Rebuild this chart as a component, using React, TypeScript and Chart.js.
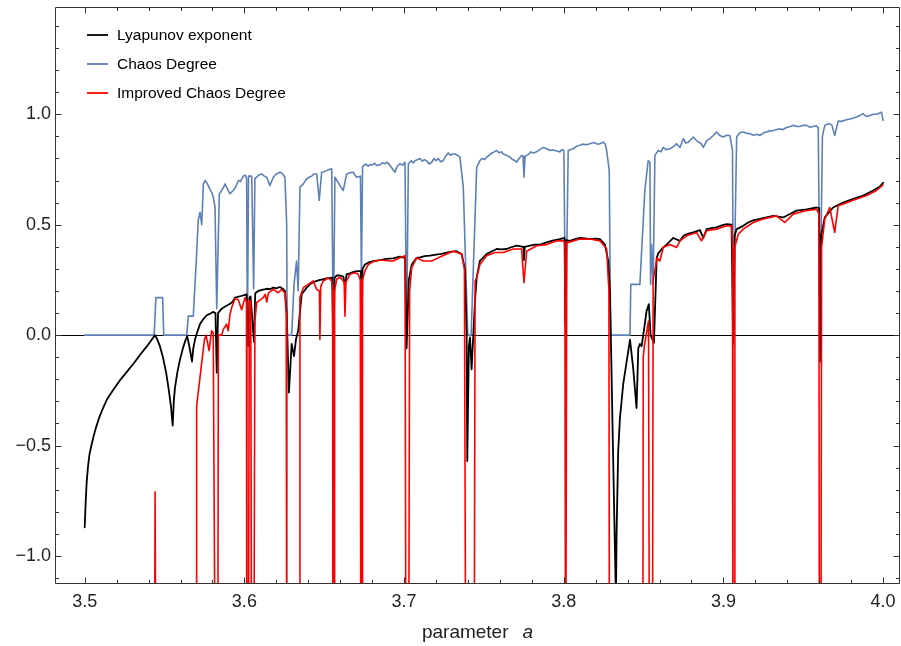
import React, { useEffect, useRef } from 'react';
import { Chart, registerables } from 'chart.js';

Chart.register(...registerables);

const X_MIN = 3.4814;
const X_MAX = 4.0106;
const Y_MIN = -1.127;
const Y_MAX = 1.486;

const xTickLabels = [3.5, 3.6, 3.7, 3.8, 3.9, 4.0];
const yTickLabels = [-1.0, -0.5, 0.0, 0.5, 1.0];
const seriesNames = ['Lyapunov exponent', 'Chaos Degree', 'Improved Chaos Degree'];
const seriesColors = ['#000000', '#5e81b5', '#ff0000'];
const axisTitle = 'parameter';
const axisSymbol = 'a';

// [parameter a, value]
const lyapunov: [number, number][] = [
  [3.5, -0.87], [3.5006, -0.76], [3.5012, -0.67], [3.502, -0.6], [3.503, -0.54], [3.5042, -0.5],
  [3.5055, -0.46], [3.507, -0.42], [3.509, -0.375], [3.5115, -0.33], [3.514, -0.29], [3.5177, -0.25],
  [3.522, -0.205], [3.5265, -0.165], [3.531, -0.125], [3.5346, -0.09], [3.539, -0.05], [3.5425, -0.015],
  [3.544, 0.0], [3.5455, -0.02], [3.5471, -0.05], [3.549, -0.1], [3.551, -0.17], [3.5525, -0.24],
  [3.554, -0.32], [3.5551, -0.41], [3.5558, -0.3], [3.5565, -0.24], [3.558, -0.17], [3.5597, -0.11],
  [3.5615, -0.06], [3.563, -0.025], [3.5642, -0.005], [3.5655, -0.05], [3.5665, -0.09], [3.5672, -0.12],
  [3.568, -0.06], [3.5691, -0.02], [3.5701, 0.005], [3.5722, 0.05], [3.574, 0.07], [3.5764, 0.09],
  [3.578, 0.095], [3.5803, 0.105], [3.5819, 0.1], [3.5827, -0.17], [3.5835, 0.1], [3.5858, 0.12],
  [3.588, 0.13], [3.591, 0.142], [3.5925, 0.15], [3.5941, 0.17], [3.597, 0.175], [3.5993, 0.18],
  [3.6014, 0.185], [3.6024, -0.05], [3.6032, 0.17], [3.6039, 0.175], [3.606, -0.03], [3.6068, 0.19],
  [3.6087, 0.2], [3.611, 0.205], [3.614, 0.21], [3.616, 0.208], [3.6181, 0.215], [3.62, 0.212],
  [3.6223, 0.218], [3.624, 0.21], [3.6254, 0.2], [3.6265, 0.1], [3.6279, -0.26], [3.6296, -0.04],
  [3.6311, -0.095], [3.6323, -0.02], [3.6337, 0.02], [3.6359, 0.185], [3.639, 0.215], [3.641, 0.23],
  [3.6431, 0.24], [3.645, 0.245], [3.6473, 0.25], [3.649, 0.252], [3.6515, 0.257], [3.655, 0.26],
  [3.6557, -0.12], [3.6565, 0.26], [3.6578, 0.27], [3.66, 0.27], [3.662, 0.265], [3.663, 0.22],
  [3.664, 0.275], [3.6661, 0.28], [3.668, 0.285], [3.6703, 0.29], [3.673, 0.29], [3.6734, -0.035],
  [3.674, 0.3], [3.6755, 0.32], [3.678, 0.33], [3.6807, 0.335], [3.685, 0.34], [3.6891, 0.345],
  [3.693, 0.348], [3.6974, 0.355], [3.7006, 0.35], [3.7016, -0.06], [3.703, 0.25], [3.7048, 0.32],
  [3.7079, 0.35], [3.71, 0.352], [3.713, 0.358], [3.7162, 0.36], [3.72, 0.365], [3.7235, 0.368],
  [3.7267, 0.374], [3.73, 0.378], [3.7329, 0.38], [3.7361, 0.367], [3.7381, 0.3], [3.7392, 0.0],
  [3.7396, -0.57], [3.7406, -0.05], [3.7413, -0.01], [3.7423, -0.155], [3.7433, -0.01], [3.7444, 0.15],
  [3.7455, 0.26], [3.7475, 0.336], [3.7517, 0.367], [3.755, 0.38], [3.758, 0.39], [3.761, 0.388],
  [3.7642, 0.39], [3.767, 0.398], [3.7705, 0.405], [3.7748, 0.4], [3.7751, 0.34], [3.7756, 0.4],
  [3.7788, 0.405], [3.782, 0.41], [3.7851, 0.41], [3.7893, 0.42], [3.793, 0.428], [3.7976, 0.435],
  [3.8005, 0.44], [3.801, 0.06], [3.8016, 0.43], [3.8039, 0.427], [3.807, 0.435], [3.8101, 0.44],
  [3.8135, 0.438], [3.8164, 0.435], [3.82, 0.437], [3.8227, 0.435], [3.8258, 0.41], [3.8279, 0.336],
  [3.8289, 0.2], [3.8295, 0.0], [3.8308, -0.5], [3.8327, -1.2], [3.8331, -0.9], [3.8341, -0.53],
  [3.8352, -0.376], [3.8373, -0.22], [3.8394, -0.12], [3.8415, -0.02], [3.8435, -0.15], [3.8456, -0.33],
  [3.8467, -0.06], [3.8477, -0.04], [3.8488, -0.05], [3.8498, 0.0], [3.8519, 0.11], [3.8533, 0.14],
  [3.8544, 0.0], [3.8565, -0.035], [3.8582, 0.35], [3.8592, 0.37], [3.862, 0.395], [3.8644, 0.41],
  [3.8686, 0.44], [3.8728, 0.427], [3.875, 0.45], [3.877, 0.457], [3.8811, 0.465], [3.8853, 0.476],
  [3.8874, 0.44], [3.8895, 0.48], [3.8925, 0.485], [3.8957, 0.488], [3.899, 0.497], [3.902, 0.503],
  [3.9051, 0.5], [3.9061, -0.04], [3.907, 0.45], [3.9083, 0.48], [3.9124, 0.495], [3.9155, 0.51],
  [3.9187, 0.52], [3.9249, 0.53], [3.9312, 0.54], [3.9374, 0.533], [3.942, 0.55], [3.9458, 0.564],
  [3.9521, 0.57], [3.9584, 0.578], [3.96, 0.575], [3.9605, -0.12], [3.9612, 0.45], [3.9635, 0.533],
  [3.9687, 0.578], [3.972, 0.59], [3.975, 0.6], [3.9813, 0.617], [3.9875, 0.632], [3.9938, 0.655],
  [3.998, 0.673], [4.0, 0.69],
];

const chaosDegree: [number, number][] = [
  [3.5, 0], [3.5435, 0], [3.5446, 0.17], [3.5488, 0.17], [3.5495, 0], [3.5639, 0], [3.5649, 0.086],
  [3.568, 0.086], [3.5701, 0.367], [3.5711, 0.52], [3.5722, 0.556], [3.5733, 0.5], [3.5743, 0.685],
  [3.5754, 0.7], [3.5765, 0.69], [3.5774, 0.677], [3.5785, 0.66], [3.5795, 0.647], [3.5806, 0.624],
  [3.5816, 0.58], [3.5827, 0.12], [3.5843, 0.64], [3.5858, 0.655], [3.587, 0.67], [3.5879, 0.685],
  [3.5895, 0.66], [3.591, 0.64], [3.593, 0.655], [3.5945, 0.67], [3.5962, 0.7], [3.5975, 0.695],
  [3.5993, 0.72], [3.6005, 0.725], [3.6014, 0.71], [3.6019, 0.0], [3.6026, 0.72], [3.6046, 0.72],
  [3.6058, 0.21], [3.6066, 0.71], [3.6077, 0.715], [3.609, 0.725], [3.6108, 0.73], [3.6125, 0.72],
  [3.614, 0.715], [3.616, 0.677], [3.6181, 0.715], [3.62, 0.73], [3.6223, 0.738], [3.624, 0.73],
  [3.6254, 0.715], [3.6265, 0.5], [3.6268, 0.0], [3.6296, 0.0], [3.6311, 0.23], [3.6327, 0.336],
  [3.6337, 0.2], [3.6348, 0.67], [3.6369, 0.685], [3.639, 0.707], [3.6405, 0.715], [3.6421, 0.72],
  [3.6437, 0.73], [3.6453, 0.73], [3.6469, 0.61], [3.6484, 0.738], [3.65, 0.74], [3.6515, 0.745],
  [3.653, 0.75], [3.6547, 0.753], [3.6557, 0.0], [3.6567, 0.715], [3.658, 0.7], [3.6599, 0.677],
  [3.6619, 0.655], [3.6641, 0.73], [3.666, 0.735], [3.6682, 0.738], [3.6692, 0.725], [3.6703, 0.715],
  [3.6727, 0.72], [3.6733, 0.25], [3.674, 0.76], [3.6745, 0.768], [3.676, 0.775], [3.6775, 0.765],
  [3.6786, 0.773], [3.68, 0.77], [3.6815, 0.778], [3.683, 0.768], [3.6849, 0.772], [3.6865, 0.78],
  [3.688, 0.776], [3.6891, 0.783], [3.6905, 0.775], [3.692, 0.76], [3.6943, 0.738], [3.6958, 0.765],
  [3.6974, 0.776], [3.699, 0.77], [3.7006, 0.783], [3.7016, 0.0], [3.7027, 0.776], [3.7045, 0.79],
  [3.7058, 0.78], [3.7069, 0.79], [3.7085, 0.795], [3.71, 0.8], [3.7115, 0.788], [3.7128, 0.795],
  [3.7141, 0.79], [3.7157, 0.775], [3.7173, 0.783], [3.7188, 0.8], [3.72, 0.79], [3.7214, 0.8],
  [3.7229, 0.785], [3.7245, 0.79], [3.726, 0.81], [3.7277, 0.825], [3.729, 0.815], [3.7305, 0.82],
  [3.7319, 0.82], [3.7335, 0.815], [3.735, 0.806], [3.7371, 0.67], [3.7399, 0.0], [3.742, 0.0],
  [3.7444, 0.52], [3.7455, 0.76], [3.7475, 0.79], [3.749, 0.8], [3.7505, 0.795], [3.7517, 0.806],
  [3.7535, 0.815], [3.755, 0.825], [3.7565, 0.83], [3.758, 0.836], [3.7595, 0.826], [3.761, 0.83],
  [3.7621, 0.82], [3.764, 0.815], [3.7663, 0.806], [3.768, 0.795], [3.7695, 0.79], [3.7705, 0.783],
  [3.772, 0.8], [3.7736, 0.814], [3.7745, 0.81], [3.7751, 0.715], [3.7758, 0.81], [3.7768, 0.814],
  [3.778, 0.82], [3.7795, 0.83], [3.781, 0.825], [3.783, 0.83], [3.785, 0.84], [3.7872, 0.85],
  [3.789, 0.845], [3.7914, 0.836], [3.793, 0.84], [3.795, 0.835], [3.7976, 0.83], [3.799, 0.84],
  [3.8001, 0.836], [3.8012, 0.0], [3.8028, 0.836], [3.804, 0.84], [3.8059, 0.844], [3.808, 0.855],
  [3.8101, 0.86], [3.812, 0.865], [3.814, 0.862], [3.8164, 0.867], [3.819, 0.872], [3.821, 0.865],
  [3.8227, 0.867], [3.8248, 0.874], [3.826, 0.865], [3.8269, 0.836], [3.8285, 0.745], [3.8294, 0.0],
  [3.8415, 0.0], [3.842, 0.23], [3.8477, 0.23], [3.8508, 0.655], [3.8529, 0.79], [3.854, 0.783],
  [3.8544, 0.23], [3.855, 0.41], [3.856, 0.23], [3.8571, 0.814], [3.8592, 0.836], [3.861, 0.83],
  [3.8623, 0.85], [3.864, 0.84], [3.8665, 0.844], [3.869, 0.855], [3.8707, 0.867], [3.8728, 0.85],
  [3.8749, 0.89], [3.8765, 0.87], [3.878, 0.874], [3.8795, 0.885], [3.8811, 0.897], [3.8827, 0.885],
  [3.8843, 0.874], [3.8858, 0.87], [3.8874, 0.85], [3.8895, 0.88], [3.8915, 0.89], [3.8937, 0.904],
  [3.8957, 0.92], [3.8975, 0.905], [3.8999, 0.897], [3.902, 0.905], [3.9041, 0.904], [3.9057, 0.836],
  [3.9062, 0.0], [3.9083, 0.897], [3.91, 0.915], [3.9124, 0.92], [3.914, 0.915], [3.9166, 0.912],
  [3.919, 0.905], [3.921, 0.91], [3.9228, 0.904], [3.925, 0.915], [3.927, 0.92], [3.929, 0.925],
  [3.9312, 0.927], [3.933, 0.93], [3.9354, 0.935], [3.937, 0.93], [3.9395, 0.94], [3.942, 0.945],
  [3.9437, 0.95], [3.946, 0.945], [3.9479, 0.945], [3.95, 0.95], [3.9521, 0.95], [3.954, 0.942],
  [3.9562, 0.945], [3.958, 0.948], [3.9594, 0.94], [3.9605, 0.05], [3.962, 0.9], [3.9635, 0.95],
  [3.965, 0.955], [3.9666, 0.957], [3.968, 0.95], [3.9697, 0.904], [3.9719, 0.97], [3.974, 0.968],
  [3.9771, 0.975], [3.98, 0.98], [3.9834, 0.988], [3.9855, 0.995], [3.9875, 1.003], [3.9895, 0.99],
  [3.9917, 0.995], [3.994, 1.0], [3.9959, 1.0], [3.9975, 1.005], [3.999, 1.01], [4.0, 0.973],
];

// -2 marks values that fall to minus infinity (below the frame)
const improvedChaosDegree: [number, number][] = [
  [3.5, -2], [3.5435, -2], [3.5441, -0.71], [3.5447, -2], [3.5699, -2], [3.5701, -0.32], [3.575, -0.02],
  [3.576, 0.0], [3.5779, -0.07], [3.5795, 0.02], [3.5805, 0.01], [3.582, -2], [3.5833, -2], [3.5837, 0.0],
  [3.5858, 0.0], [3.5868, 0.026], [3.5889, 0.05], [3.5899, 0.02], [3.591, 0.094], [3.592, 0.124],
  [3.5941, 0.165], [3.5962, 0.16], [3.5983, 0.115], [3.6004, 0.17], [3.6013, 0.15], [3.6016, -2],
  [3.6024, -2], [3.6031, 0.155], [3.604, 0.155], [3.6046, -2], [3.6058, -2], [3.6066, 0.064],
  [3.6077, 0.147], [3.6118, 0.17], [3.613, 0.185], [3.614, 0.15], [3.615, 0.19], [3.6181, 0.207],
  [3.6212, 0.192], [3.6234, 0.207], [3.6254, 0.19], [3.6262, 0.1], [3.6266, -2], [3.6345, -2],
  [3.6348, 0.17], [3.6369, 0.215], [3.64, 0.23], [3.6431, 0.245], [3.6453, 0.207], [3.647, 0.2],
  [3.6473, -0.02], [3.6478, 0.22], [3.6494, 0.245], [3.6525, 0.26], [3.6547, 0.245], [3.6553, 0.2],
  [3.6555, -2], [3.6562, -2], [3.6565, 0.2], [3.6578, 0.253], [3.6599, 0.263], [3.6625, 0.24],
  [3.663, 0.086], [3.6636, 0.24], [3.6661, 0.276], [3.6693, 0.283], [3.6713, 0.276], [3.6726, 0.25],
  [3.673, -2], [3.6737, -2], [3.674, 0.25], [3.6755, 0.29], [3.6776, 0.32], [3.6807, 0.333],
  [3.6849, 0.34], [3.6912, 0.336], [3.6932, 0.336], [3.6974, 0.35], [3.7006, 0.36], [3.7013, -2],
  [3.7028, -2], [3.7035, 0.2], [3.7048, 0.306], [3.7079, 0.35], [3.712, 0.336], [3.7173, 0.336],
  [3.7214, 0.35], [3.7267, 0.367], [3.7308, 0.38], [3.7361, 0.367], [3.7378, 0.3], [3.7388, -2],
  [3.7438, -2], [3.7445, 0.245], [3.7455, 0.26], [3.7475, 0.32], [3.7517, 0.36], [3.7569, 0.374],
  [3.7621, 0.374], [3.7684, 0.39], [3.7736, 0.39], [3.7751, 0.238], [3.7768, 0.38], [3.783, 0.405],
  [3.7893, 0.41], [3.7956, 0.427], [3.7997, 0.427], [3.8007, 0.42], [3.8012, -2], [3.8019, 0.42],
  [3.8028, 0.42], [3.8101, 0.435], [3.8164, 0.435], [3.8227, 0.427], [3.8269, 0.39], [3.8283, 0.2],
  [3.8287, -2], [3.8495, -2], [3.8498, -0.1], [3.8505, -0.05], [3.8531, 0.064], [3.8538, -2],
  [3.8555, -2], [3.856, 0.25], [3.8585, 0.35], [3.8602, 0.336], [3.8623, 0.397], [3.8665, 0.41],
  [3.8707, 0.397], [3.8728, 0.427], [3.877, 0.45], [3.8832, 0.465], [3.8863, 0.427], [3.8895, 0.473],
  [3.8957, 0.48], [3.902, 0.495], [3.9051, 0.495], [3.9057, 0.4], [3.906, -2], [3.9068, -2],
  [3.9072, 0.4], [3.9093, 0.457], [3.9124, 0.48], [3.9187, 0.51], [3.9249, 0.526], [3.9333, 0.54],
  [3.9385, 0.51], [3.9437, 0.548], [3.9521, 0.564], [3.9584, 0.57], [3.9598, 0.55], [3.9602, -2],
  [3.961, -2], [3.9615, 0.4], [3.9635, 0.526], [3.9666, 0.578], [3.9697, 0.465], [3.9719, 0.586],
  [3.9771, 0.6], [3.9834, 0.617], [3.9897, 0.632], [3.9959, 0.655], [4.0, 0.68],
];

const FONT = '"Liberation Sans", Arial, Helvetica, sans-serif';
const FRAME = '#333333';

const toPts = (s: [number, number][]) => s.map(([x, y]) => ({ x, y }));

const framePlugin = {
  id: 'mmaFrame',
  afterDatasetsDraw(chart: any) {
    const { ctx, chartArea: a, scales } = chart;
    const xs = scales.x;
    const ys = scales.y;
    ctx.save();
    ctx.strokeStyle = FRAME;
    ctx.lineWidth = 1;
    const L = Math.round(a.left) + 0.5;
    const R = Math.round(a.right) - 0.5;
    const T = Math.round(a.top) + 0.5;
    const B = Math.round(a.bottom) - 0.5;
    ctx.beginPath();
    ctx.moveTo(L, T); ctx.lineTo(R, T); ctx.lineTo(R, B); ctx.lineTo(L, B); ctx.closePath();
    ctx.stroke();
    ctx.beginPath();
    for (let i = 0; i <= 26; i++) {
      const v = 3.48 + i * 0.02;
      const p = Math.round(xs.getPixelForValue(v)) + 0.5;
      if (p < a.left || p > a.right) continue;
      const len = i % 5 === 1 ? 6 : 3.5;
      ctx.moveTo(p, B); ctx.lineTo(p, B - len);
      ctx.moveTo(p, T); ctx.lineTo(p, T + len);
    }
    for (let j = 0; j <= 25; j++) {
      const v = -1.1 + j * 0.1;
      const p = Math.round(ys.getPixelForValue(v)) + 0.5;
      if (p < a.top || p > a.bottom) continue;
      const len = j % 5 === 1 ? 6 : 3.5;
      ctx.moveTo(L, p); ctx.lineTo(L + len, p);
      ctx.moveTo(R, p); ctx.lineTo(R - len, p);
    }
    ctx.stroke();

    // axis title: "parameter  a" (a in italic)
    ctx.fillStyle = '#222';
    ctx.textBaseline = 'alphabetic';
    ctx.font = `19px ${FONT}`;
    const w1 = ctx.measureText(axisTitle).width;
    const gap = 14;
    ctx.font = `italic 19px ${FONT}`;
    const w2 = ctx.measureText(axisSymbol).width;
    const cx = (a.left + a.right) / 2;
    const start = cx - (w1 + gap + w2) / 2;
    ctx.font = `19px ${FONT}`;
    ctx.textAlign = 'left';
    ctx.fillText(axisTitle, start, 638);
    ctx.font = `italic 19px ${FONT}`;
    ctx.fillText(axisSymbol, start + w1 + gap, 638);

    // legend
    const ly = [35, 64, 93];
    ctx.font = `15.5px ${FONT}`;
    ctx.textBaseline = 'middle';
    seriesNames.forEach((name, k) => {
      ctx.strokeStyle = seriesColors[k];
      ctx.lineWidth = 1.8;
      ctx.beginPath();
      ctx.moveTo(a.left + 32, ly[k]);
      ctx.lineTo(a.left + 53, ly[k]);
      ctx.stroke();
      ctx.fillStyle = '#000';
      ctx.fillText(name, a.left + 62, ly[k] + 0.5);
    });
    ctx.restore();
  },
};

export default function App() {
  const ref = useRef<HTMLCanvasElement | null>(null);
  useEffect(() => {
    if (!ref.current) return;
    const chart = new Chart(ref.current, {
      type: 'line',
      data: {
        datasets: [
          {
            label: seriesNames[2], data: toPts(improvedChaosDegree), borderColor: seriesColors[2],
            borderWidth: 1.6, pointRadius: 0, tension: 0, order: 1,
          },
          {
            label: seriesNames[0], data: toPts(lyapunov), borderColor: seriesColors[0],
            borderWidth: 1.8, pointRadius: 0, tension: 0, order: 2,
          },
          {
            label: seriesNames[1], data: toPts(chaosDegree), borderColor: seriesColors[1],
            borderWidth: 1.6, pointRadius: 0, tension: 0, order: 3,
          },
        ],
      },
      options: {
        responsive: false,
        animation: false,
        devicePixelRatio: 1,
        layout: { padding: { top: 7, right: 1, left: 0, bottom: 0 } },
        plugins: { legend: { display: false }, tooltip: { enabled: false } },
        elements: { line: { borderJoinStyle: 'round', borderCapStyle: 'round' } },
        scales: {
          x: {
            type: 'linear', min: X_MIN, max: X_MAX,
            border: { display: false },
            grid: { display: false, drawTicks: false },
            afterBuildTicks: (s: any) => { s.ticks = xTickLabels.map((v) => ({ value: v })); },
            afterFit: (s: any) => { s.height = 62; s.paddingLeft = 0; s.paddingRight = 0; },
            ticks: {
              autoSkip: false, maxRotation: 0, padding: 7, color: '#222',
              font: { family: FONT, size: 18 },
              callback: (v: any) => Number(v).toFixed(1),
            },
          },
          y: {
            type: 'linear', min: Y_MIN, max: Y_MAX,
            border: { display: false },
            grid: {
              drawTicks: false,
              color: (c: any) => (c.tick && Math.abs(c.tick.value) < 1e-9 ? '#000' : 'rgba(0,0,0,0)'),
              lineWidth: 1,
            },
            afterBuildTicks: (s: any) => { s.ticks = yTickLabels.map((v) => ({ value: v })); },
            afterFit: (s: any) => { s.width = 55; s.paddingTop = 0; s.paddingBottom = 0; },
            ticks: {
              padding: 4, color: '#222',
              font: { family: FONT, size: 18 },
              callback: (v: any) => {
                const n = Number(v);
                return n < -1e-9 ? '\u2212' + Math.abs(n).toFixed(1) : Math.abs(n).toFixed(1);
              },
            },
          },
        },
      },
      plugins: [framePlugin],
    });
    return () => chart.destroy();
  }, []);
  return (
    <div style={{ position: 'fixed', left: 0, top: 0, width: 901, height: 646, background: '#fff' }}>
      <canvas ref={ref} width={901} height={646} />
    </div>
  );
}
